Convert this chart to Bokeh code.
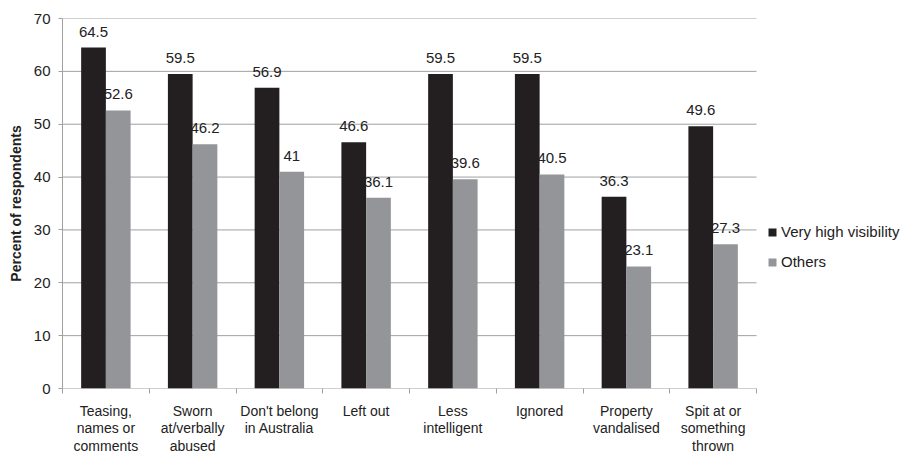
from bokeh.plotting import figure
from bokeh.models import (ColumnDataSource, Range1d, FixedTicker, Legend, LegendItem,
                          LabelSet)
from bokeh.core.properties import value
from bokeh.transform import dodge
from bokeh.embed import file_html
from bokeh.resources import INLINE

categories = ["Teasing,\nnames or\ncomments", "Sworn\nat/verbally\nabused",
              "Don't belong\nin Australia", "Left out", "Less\nintelligent",
              "Ignored", "Property\nvandalised", "Spit at or\nsomething\nthrown"]
very_high = [64.5, 59.5, 56.9, 46.6, 59.5, 59.5, 36.3, 49.6]
others = [52.6, 46.2, 41, 36.1, 39.6, 40.5, 23.1, 27.3]
series_names = ["Very high visibility", "Others"]
y_ticks = [0, 10, 20, 30, 40, 50, 60, 70]

FONT = "Liberation Sans"
BLACK = "#231f20"
GRAY = "#939598"
AXIS = "#a0a0a0"
TXT = "#222222"

W, H = 903, 456
LEFT, RIGHT, TOP, BOTTOM = 62, 2, 18, 60
cat_px = 694 / 8.0  # pixel width of one category slot
n = len(categories)
x_end = (W - LEFT - RIGHT) / cat_px

centers = [i + 0.5 for i in range(n)]
src = ColumnDataSource(dict(
    x=centers,
    vh=very_high, ot=others,
    vh_lab=[f"{v:g}" for v in very_high],
    ot_lab=[f"{v:g}" for v in others],
))

p = figure(width=W, height=H, output_backend="svg", toolbar_location=None,
           x_range=Range1d(0, x_end), y_range=Range1d(y_ticks[0], y_ticks[-1]),
           min_border_left=LEFT, min_border_right=RIGHT, min_border_top=TOP,
           min_border_bottom=BOTTOM)
p.outline_line_color = None
p.background_fill_color = "white"

# gridlines only over the category area
grid_src = ColumnDataSource(dict(x0=[0] * len(y_ticks), x1=[n] * len(y_ticks),
                                 y=y_ticks))
p.segment(x0="x0", y0="y", x1="x1", y1="y", source=grid_src,
          line_color=AXIS, line_width=1)

bw = 0.285
r1 = p.vbar(x=dodge("x", -bw / 2, range=p.x_range), top="vh", width=bw, source=src,
            fill_color=BLACK, line_color=None)
r2 = p.vbar(x=dodge("x", bw / 2, range=p.x_range), top="ot", width=bw, source=src,
            fill_color=GRAY, line_color=None)

for col, lab, off in (("vh", "vh_lab", -bw / 2), ("ot", "ot_lab", bw / 2)):
    ls = LabelSet(x=dodge("x", off, range=p.x_range), y=col, text=lab, source=src,
                  text_align="center", text_baseline="alphabetic", y_offset=11,
                  text_font=value(FONT), text_font_size="15px", text_color=TXT)
    p.add_layout(ls)

# axes
p.xaxis.ticker = FixedTicker(ticks=centers, minor_ticks=list(range(n + 1)))
p.xaxis.major_label_overrides = {c: lab for c, lab in zip(centers, categories)}
p.xaxis.major_tick_line_color = None
p.xaxis.minor_tick_line_color = AXIS
p.xaxis.minor_tick_out = 5
p.xaxis.minor_tick_in = 0
p.xaxis.axis_line_color = None
p.xaxis.major_label_text_font = FONT
p.xaxis.major_label_text_font_size = "14px"
p.xaxis.major_label_text_color = TXT
p.xaxis.major_label_text_line_height = 1.1
p.xaxis.major_label_standoff = 8

p.yaxis.ticker = FixedTicker(ticks=y_ticks)
p.yaxis.minor_tick_line_color = None
p.yaxis.major_tick_line_color = AXIS
p.yaxis.major_tick_out = 4
p.yaxis.major_tick_in = 0
p.yaxis.axis_line_color = AXIS
p.yaxis.major_label_text_font = FONT
p.yaxis.major_label_text_font_size = "15px"
p.yaxis.major_label_text_color = TXT
p.yaxis.major_label_standoff = 8
p.yaxis.axis_label = "Percent of respondents"
p.yaxis.axis_label_text_font = FONT
p.yaxis.axis_label_text_font_size = "14px"
p.yaxis.axis_label_text_font_style = "bold"
p.yaxis.axis_label_text_color = TXT
p.yaxis.axis_label_standoff = 7

p.xgrid.grid_line_color = None
p.ygrid.grid_line_color = None

legend = Legend(items=[LegendItem(label=series_names[0], renderers=[r1]),
                       LegendItem(label=series_names[1], renderers=[r2])],
                location=(n * cat_px + 11, 118), orientation="vertical",
                glyph_width=10, glyph_height=10, label_standoff=4,
                spacing=13, padding=0, margin=0,
                border_line_color=None, background_fill_alpha=0,
                label_text_font=FONT, label_text_font_size="15px",
                label_text_color=TXT)
p.add_layout(legend, "center")

open("out.html", "w").write(file_html(p, INLINE))
